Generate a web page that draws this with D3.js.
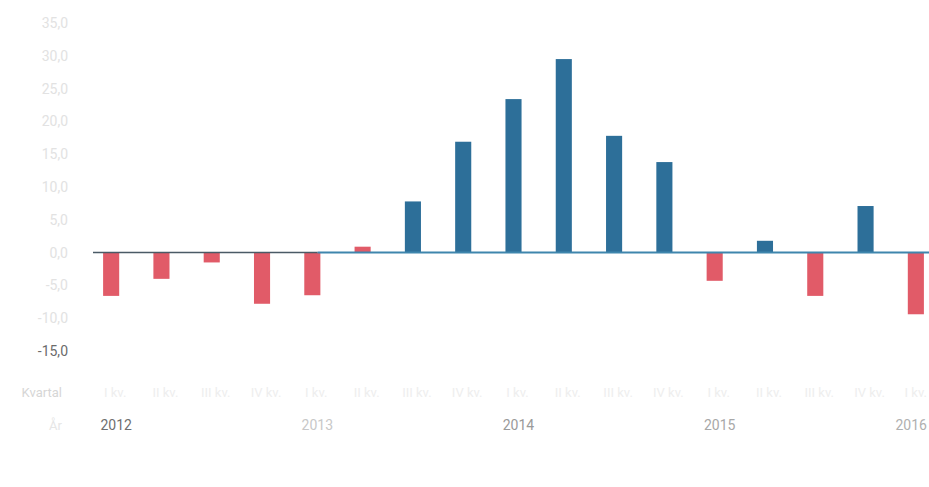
<!DOCTYPE html>
<html>
<head>
<meta charset="utf-8">
<script src="https://cdn.jsdelivr.net/npm/d3@7"></script>
<style>
  body { margin: 0; background: #fff; }
  svg text { font-family: Roboto, "Noto Sans", sans-serif; }
</style>
</head>
<body>
<div class="chart"></div>
<script>
const periods = ['2012 I','2012 II','2012 III','2012 IV','2013 I','2013 II','2013 III','2013 IV',
  '2014 I','2014 II','2014 III','2014 IV','2015 I','2015 II','2015 III','2015 IV','2016 I']
const quarterLabels = ['I kv.','II kv.','III kv.','IV kv.','I kv.','II kv.','III kv.','IV kv.',
  'I kv.','II kv.','III kv.','IV kv.','I kv.','II kv.','III kv.','IV kv.','I kv.']
const yearLabels = ['2012','','','','2013','','','','2014','','','','2015','','','','2016']
const values = [-6.6, -4.0, -1.5, -7.8, -6.5, 0.9, 7.8, 16.9, 23.4, 29.5, 17.8, 13.8, -4.3, 1.8, -6.6, 7.1, -9.4]
const groups = ['d','d','d','d','d','d','u','u','u','u','u','u','d','u','d','u','d']
const yTicks = [35, 30, 25, 20, 15, 10, 5, 0, -5, -10, -15]

const width = 929, height = 487
const margin = { top: 23, left: 86, right: -12, bottom: 136 }
const color = { u: '#2d6f99', d: '#e15b68' }

const svg = d3.select('.chart').append('svg')
    .attr('width', width)
    .attr('height', height)

const xScale = d3.scaleBand()
    .domain(periods)
    .range([margin.left, width - margin.right])
    .paddingInner(0.68)
    .paddingOuter(0.34)
const yScale = d3.scaleLinear()
    .domain([-15, 35])
    .range([351, margin.top])

const fmt = d => d3.format('.1f')(d).replace('.', ',').replace('−', '-')

// y labels
svg.append('g')
    .selectAll('text')
    .data(yTicks)
    .enter()
    .append('text')
    .attr('x', 68)
    .attr('y', d => yScale(d))
    .attr('dy', '0.35em')
    .attr('text-anchor', 'end')
    .attr('font-size', 14)
    .attr('fill', d => d === -15 ? '#6b6b6b' : '#e2e2e2')
    .text(fmt)

// bars
svg.append('g')
    .selectAll('rect')
    .data(values)
    .enter()
    .append('rect')
    .attr('x', (d, i) => xScale(periods[i]))
    .attr('y', d => yScale(Math.max(d, 0)))
    .attr('width', xScale.bandwidth())
    .attr('height', d => Math.abs(yScale(d) - yScale(0)))
    .attr('fill', (d, i) => color[groups[i]])

// zero line
const x0 = 93
const xMid = xScale(periods[5]) + xScale.bandwidth() / 2 - 45
svg.append('line')
    .attr('x1', x0).attr('x2', xMid)
    .attr('y1', yScale(0)).attr('y2', yScale(0))
    .attr('stroke', '#4a5a66').attr('stroke-width', 1.5)
svg.append('line')
    .attr('x1', xMid).attr('x2', width)
    .attr('y1', yScale(0)).attr('y2', yScale(0))
    .attr('stroke', '#3f86ad').attr('stroke-width', 2)

// x labels, kept inside the right edge
const xc = p => xScale(p) + xScale.bandwidth() / 2
const fitLabels = sel => sel.each(function () {
    const t = d3.select(this)
    const box = this.getBBox()
    if (box.x + box.width > width - 2) {
        t.attr('x', +t.attr('x') - (box.x + box.width - (width - 2)))
    }
})

svg.append('g')
    .selectAll('text')
    .data(quarterLabels)
    .enter()
    .append('text')
    .attr('x', (d, i) => xc(periods[i]) + 4)
    .attr('y', 397)
    .attr('text-anchor', 'middle')
    .attr('font-size', 13)
    .attr('fill', '#eeeeee')
    .text(d => d)
    .call(fitLabels)

const yearColor = { '2012': '#6f6f6f', '2013': '#c8c8c8', '2014': '#9a9a9a', '2015': '#a8a8a8', '2016': '#b0b0b0' }
svg.append('g')
    .selectAll('text')
    .data(yearLabels)
    .enter()
    .append('text')
    .attr('x', (d, i) => xc(periods[i]) + 5)
    .attr('y', 430)
    .attr('text-anchor', 'middle')
    .attr('font-size', 14)
    .attr('fill', d => yearColor[d] || '#999')
    .text(d => d)
    .call(fitLabels)

svg.append('text')
    .attr('x', 62).attr('y', 397)
    .attr('text-anchor', 'end')
    .attr('font-size', 13)
    .attr('fill', '#d6d6d6')
    .text('Kvartal')
svg.append('text')
    .attr('x', 62).attr('y', 430)
    .attr('text-anchor', 'end')
    .attr('font-size', 13)
    .attr('fill', '#e6e6e6')
    .text('År')
</script>
</body>
</html>
